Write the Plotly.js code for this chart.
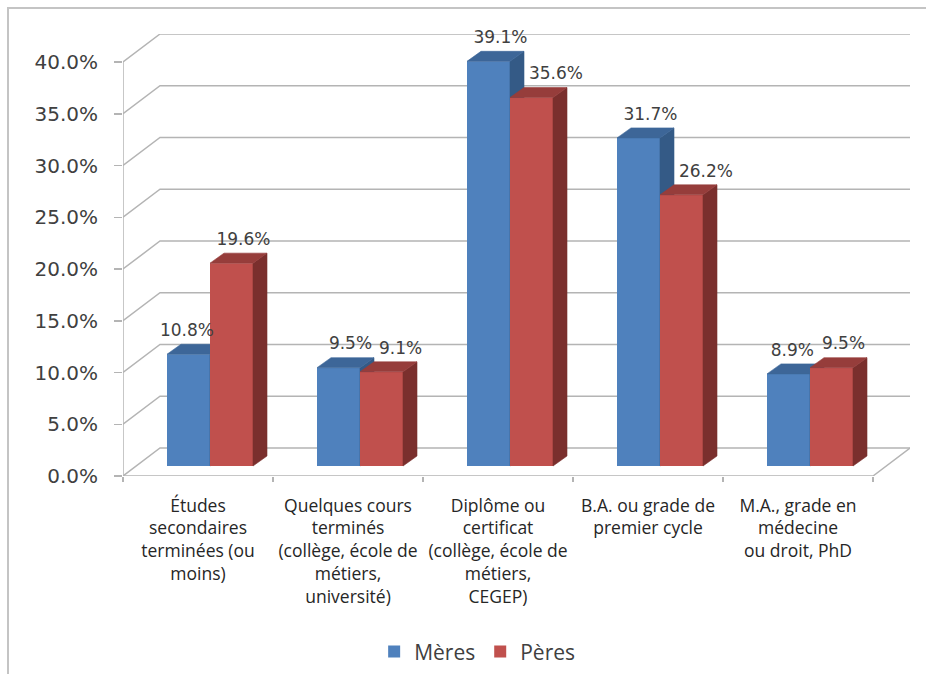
<!DOCTYPE html>
<html>
<head>
<meta charset="utf-8">
<script src="https://cdn.plot.ly/plotly-3.0.1.min.js"></script>
<style>
  html, body { margin: 0; padding: 0; background: #ffffff; overflow: hidden; }
  #wrap { position: relative; width: 926px; height: 674px; overflow: hidden; }
  #chart { position: absolute; left: 0; top: 0; width: 926px; height: 674px; }
  #frame { position: absolute; left: 7px; top: 7px; width: 960px; height: 720px;
           border-left: 2px solid #c4c4c4; border-top: 2px solid #c4c4c4; pointer-events: none; }
</style>
</head>
<body>
<div id="wrap">
  <div id="chart"></div>
  <div id="frame"></div>
</div>
<script>
// Education level of mothers and fathers (share of respondents, %)
const categories = [
  'Études<br>secondaires<br>terminées (ou<br>moins)',
  'Quelques cours<br>terminés<br>(collège, école de<br>métiers,<br>université)',
  'Diplôme ou<br>certificat<br>(collège, école de<br>métiers,<br>CEGEP)',
  'B.A. ou grade de<br>premier cycle',
  'M.A., grade en<br>médecine<br>ou droit, PhD'
];
const seriesNames = ['Mères', 'Pères'];
const meres = [10.8, 9.5, 39.1, 31.7, 8.9];
const peres = [19.6, 9.1, 35.6, 26.2, 9.5];
const yTicks = [0, 5, 10, 15, 20, 25, 30, 35, 40];

// ---- pseudo-3D geometry (pixels converted into axis units) ----
const plotW = 787, plotH = 442;          // plot area in px
const pxPerCat = 150;                    // one category slot on the front plane
const pxPerPct = 10.35;                  // one percent on the front plane
const xMin = -0.5, xMax = xMin + plotW / pxPerCat;
const yMax = plotH / pxPerPct;
const nCat = categories.length;

const wallDx = 37 / pxPerCat, wallDy = 28 / pxPerPct;   // depth of floor / back wall
const barSx = 12 / pxPerCat, barSy = 10 / pxPerPct;     // front face of the bars
const barDx = 14 / pxPerCat, barDy = 10 / pxPerPct;     // thickness of a bar
const barW = 43 / pxPerCat;
const labelLiftX = 5 / pxPerCat, labelLiftY = 4 / pxPerPct;

const gridColor = '#b4b4b4';
const labelFont = { family: 'DejaVu Sans', size: 17, color: '#404040' };
const colors = {
  blue: { front: '#4f81bd', top: '#3d6698', side: '#345a86' },
  red:  { front: '#c0504d', top: '#963d3b', side: '#7a2f2d' }
};

const traces = [];

// ---- walls: gridlines with their receding stubs, floor ----
const gx = [], gy = [];
yTicks.forEach(v => {
  gx.push(xMin, xMin + wallDx, nCat - 0.5 + wallDx, null);
  gy.push(v, v + wallDy, v + wallDy, null);
});
// front axis line
gx.push(xMin, xMin, null);
gy.push(0, yTicks[yTicks.length - 1], null);
// floor front edge and right edge
gx.push(xMin, nCat - 0.5, nCat - 0.5 + wallDx, null);
gy.push(0, 0, wallDy, null);
traces.push({
  type: 'scatter', mode: 'lines', x: gx, y: gy, xaxis: 'x', yaxis: 'y',
  line: { color: gridColor, width: 1.5 }, hoverinfo: 'skip', showlegend: false,
  connectgaps: false
});

// ---- one series of 3D columns on its own overlay subplot ----
function columns(values, name, col, offset, xa, ya) {
  const idx = values.map((_, i) => i);
  traces.push({
    type: 'bar', name: name, x: idx.map(i => i + barSx), y: values,
    base: barSy, width: barW, offset: offset,
    marker: { color: col.front, line: { width: 0 } },
    xaxis: xa, yaxis: ya, hoverinfo: 'skip'
  });
  const sx = [], sy = [], tx = [], ty = [];
  values.forEach((v, i) => {
    const x0 = i + barSx + offset, x1 = x0 + barW;
    const b = barSy, t = barSy + v;
    sx.push(x1, x1 + barDx, x1 + barDx, x1, x1, null);
    sy.push(b, b + barDy, t + barDy, t, b, null);
    tx.push(x0, x1, x1 + barDx, x0 + barDx, x0, null);
    ty.push(t, t, t + barDy, t + barDy, t, null);
  });
  [[sx, sy, col.side], [tx, ty, col.top]].forEach(([px, py, c]) => {
    traces.push({
      type: 'scatter', mode: 'lines', x: px, y: py, fill: 'toself', fillcolor: c,
      line: { color: c, width: 0.6 }, xaxis: xa, yaxis: ya,
      hoverinfo: 'skip', showlegend: false
    });
  });
}

columns(meres, seriesNames[0], colors.blue, -barW, 'x2', 'y2');
columns(peres, seriesNames[1], colors.red, 0, 'x3', 'y3');

// ---- value labels above the top faces, pushed aside from a taller neighbour ----
const ctx = document.createElement('canvas').getContext('2d');
ctx.font = labelFont.size + 'px "' + labelFont.family + '"';
const halfWidth = s => ctx.measureText(s).width / 2 / pxPerCat;
const gap = 5 / pxPerCat, overhang = 4 / pxPerCat;

const lx = [], ly = [], lt = [];
meres.forEach((v, i) => {
  const text = v.toFixed(1) + '%';
  const left = i + barSx - barW;
  let cx = left + barW / 2 + barDx / 2 + labelLiftX;
  if (peres[i] > v) cx = Math.min(cx, i + barSx + overhang - halfWidth(text));
  lx.push(cx); ly.push(barSy + v + barDy + labelLiftY); lt.push(text);
});
peres.forEach((v, i) => {
  const text = v.toFixed(1) + '%';
  const left = i + barSx;
  let cx = left + barW / 2 + barDx / 2 + labelLiftX;
  if (meres[i] > v) cx = Math.max(cx, left + barDx + gap + halfWidth(text));
  lx.push(cx); ly.push(barSy + v + barDy + labelLiftY); lt.push(text);
});
traces.push({
  type: 'scatter', mode: 'text', x: lx, y: ly, text: lt, textposition: 'top center',
  textfont: labelFont,
  xaxis: 'x3', yaxis: 'y3', hoverinfo: 'skip', showlegend: false, cliponaxis: false
});

const boundaries = [];
for (let i = 0; i <= nCat; i++) boundaries.push(i - 0.5);

const hiddenY = { range: [0, yMax], visible: false, fixedrange: true };
const layout = {
  width: 926, height: 674,
  margin: { l: 123, r: 926 - 123 - plotW, t: 34, b: 674 - 34 - plotH, pad: 0, autoexpand: false },
  paper_bgcolor: '#ffffff', plot_bgcolor: 'rgba(0,0,0,0)',
  barmode: 'overlay',
  showlegend: true,
  legend: {
    orientation: 'h', x: 0.45, xanchor: 'center', y: -0.398, yanchor: 'middle',
    font: { family: 'Open Sans', size: 21, color: '#404040' },
    traceorder: 'normal', itemclick: false, itemdoubleclick: false
  },
  xaxis: {
    range: [xMin, xMax], tickvals: boundaries, ticktext: boundaries.map(() => ''),
    ticks: 'outside', ticklen: 5, tickwidth: 1.5, tickcolor: gridColor,
    showgrid: false, zeroline: false, showline: false, fixedrange: true, automargin: false
  },
  yaxis: {
    range: [0, yMax], tickvals: yTicks, ticktext: yTicks.map(v => v.toFixed(1) + '%'),
    ticks: 'outside', ticklen: 8, tickwidth: 1.5, tickcolor: gridColor,
    ticklabelstandoff: 12, automargin: false,
    tickfont: { family: 'DejaVu Sans', size: 20, color: '#404040' },
    showgrid: false, zeroline: false, showline: false, fixedrange: true
  },
  xaxis2: {
    overlaying: 'x', range: [xMin, xMax], side: 'bottom',
    tickvals: categories.map((_, i) => i), ticktext: categories, tickangle: 0,
    ticks: '', ticklabelstandoff: 17, automargin: false,
    tickfont: { family: 'Open Sans', size: 17.5, color: '#262626' },
    showgrid: false, zeroline: false, showline: false, fixedrange: true
  },
  yaxis2: Object.assign({ overlaying: 'y' }, hiddenY),
  xaxis3: { overlaying: 'x', range: [xMin, xMax], visible: false, fixedrange: true },
  yaxis3: Object.assign({ overlaying: 'y' }, hiddenY)
};

Plotly.newPlot('chart', traces, layout, { staticPlot: true, displayModeBar: false });
</script>
</body>
</html>
